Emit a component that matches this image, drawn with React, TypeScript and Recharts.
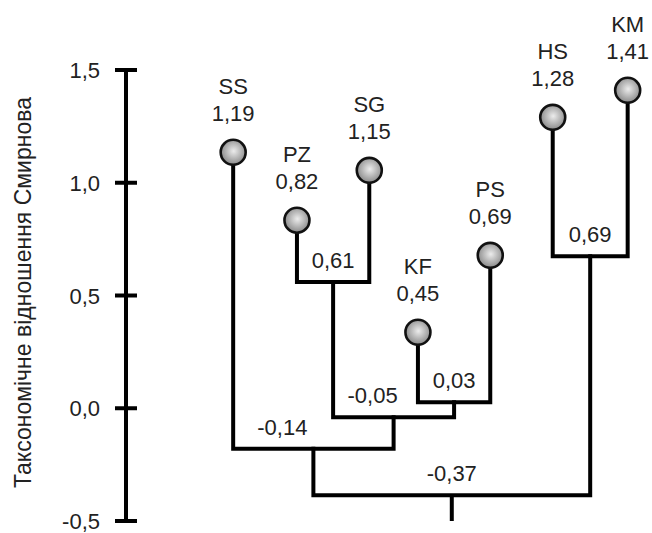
import React from "react";
import { ComposedChart, Line, Scatter, XAxis, YAxis } from "recharts";

// leaves, left to right
const leafNames = ["SS", "PZ", "SG", "KF", "PS", "HS", "KM"];
const leafValues = [1.19, 0.82, 1.15, 0.45, 0.69, 1.28, 1.41];
// heights as drawn in the figure (circles do not sit exactly at the printed value)
const leafHeights = [1.135, 0.834, 1.055, 0.337, 0.678, 1.29, 1.41];
const leafPos = [1.63, 2.6, 3.7, 4.44, 5.54, 6.49, 7.63];

// internal nodes, children listed left/right
const nodeIds = ["n1", "n2", "n3", "n4", "n5", "n6"];
const nodeChildren = [
  ["PZ", "SG"],
  ["KF", "PS"],
  ["HS", "KM"],
  ["n1", "n2"],
  ["SS", "n4"],
  ["n5", "n3"],
];
const nodeValues = [0.61, 0.03, 0.69, -0.05, -0.14, -0.37];
const nodeHeights = [0.56, 0.027, 0.674, -0.04, -0.18, -0.386];

const yTicks = [-0.5, 0, 0.5, 1, 1.5];
const rootBase = -0.5;

const FONT = "'Liberation Sans', Arial, sans-serif";
const TEXT = "#222";
const FS = 22;
// label nudges (px) where the text sits off the stem
const labelShift: Record<string, number> = { n4: -21, n5: -31 };

const fmt = (v: number, d: number) => v.toFixed(d).replace(".", ",");

const pos: Record<string, { x: number; y: number }> = {};
leafNames.forEach((n, i) => {
  pos[n] = { x: leafPos[i], y: leafHeights[i] };
});
nodeIds.forEach((id, i) => {
  const [l, r] = nodeChildren[i];
  pos[id] = { x: (pos[l].x + pos[r].x) / 2, y: nodeHeights[i] };
});

const links = nodeIds.map((id, i) => {
  const [l, r] = nodeChildren[i];
  const h = nodeHeights[i];
  return [
    { x: pos[l].x, y: pos[l].y },
    { x: pos[l].x, y: h },
    { x: pos[r].x, y: h },
    { x: pos[r].x, y: pos[r].y },
  ];
});
const rootId = nodeIds[nodeIds.length - 1];
const rootStem = [
  { x: pos[rootId].x, y: pos[rootId].y },
  { x: pos[rootId].x, y: rootBase },
];

const leafData = leafNames.map((n, i) => ({
  x: leafPos[i],
  y: leafHeights[i],
  name: n,
  value: leafValues[i],
}));
const nodeData = nodeIds.map((id, i) => ({
  x: pos[id].x,
  y: nodeHeights[i],
  id,
  value: nodeValues[i],
}));

function LeafShape(props: any) {
  const { cx, cy, payload } = props;
  const gid = `grad-${payload.name}`;
  return (
    <g>
      <defs>
        <radialGradient id={gid} cx="52%" cy="45%" r="55%">
          <stop offset="0%" stopColor="#ececec" />
          <stop offset="100%" stopColor="#888" />
        </radialGradient>
      </defs>
      <circle cx={cx} cy={cy} r={12.5} fill={`url(#${gid})`} stroke="#111" strokeWidth={2.6} />
      <text x={cx} y={cy - 58} textAnchor="middle" fontSize={FS} fontFamily={FONT} fill={TEXT}>
        {payload.name}
      </text>
      <text x={cx} y={cy - 31} textAnchor="middle" fontSize={FS} fontFamily={FONT} fill={TEXT}>
        {fmt(payload.value, 2)}
      </text>
    </g>
  );
}

function NodeLabel(props: any) {
  const { cx, cy, payload } = props;
  const dx = labelShift[payload.id] ?? 0;
  return (
    <text x={cx + dx} y={cy - 14} textAnchor="middle" fontSize={FS} fontFamily={FONT} fill={TEXT}>
      {fmt(payload.value, 2)}
    </text>
  );
}

function AxisTick(props: any) {
  const { x, y, payload } = props;
  return (
    <g>
      <line x1={x - 11} x2={x + 11} y1={y} y2={y} stroke="#000" strokeWidth={4} />
      <text x={x - 26} y={y + 8} textAnchor="end" fontSize={FS} fontFamily={FONT} fill={TEXT}>
        {fmt(payload.value, 1)}
      </text>
    </g>
  );
}

export default function App() {
  return (
    <div style={{ position: "absolute", left: 0, top: 0, background: "#fff" }}>
      <ComposedChart width={652} height={533} margin={{ top: 70, right: 0, bottom: 12, left: 0 }}>
        <XAxis type="number" dataKey="x" domain={[0, 8]} hide />
        <YAxis
          type="number"
          dataKey="y"
          domain={[-0.5, 1.5]}
          ticks={yTicks}
          width={126}
          tickSize={0}
          tickMargin={0}
          tickLine={false}
          axisLine={{ stroke: "#000", strokeWidth: 4 }}
          tick={<AxisTick />}
          label={(p: any) => {
            const vb = p.viewBox || {};
            const cy = (vb.y ?? 70) + (vb.height ?? 451) / 2 - 3;
            return (
              <text
                x={31}
                y={cy}
                transform={`rotate(-90 31 ${cy})`}
                textAnchor="middle"
                fontSize={23}
                fontFamily={FONT}
                fill={TEXT}
              >
                Таксономічне відношення Смирнова
              </text>
            );
          }}
        />
        {links.map((d, i) => (
          <Line
            key={nodeIds[i]}
            data={d}
            dataKey="y"
            type="linear"
            stroke="#000"
            strokeWidth={4}
            strokeLinejoin="miter"
            strokeLinecap="square"
            dot={false}
            activeDot={false}
            isAnimationActive={false}
          />
        ))}
        <Line
          data={rootStem}
          dataKey="y"
          type="linear"
          stroke="#000"
          strokeWidth={4}
          dot={false}
          activeDot={false}
          isAnimationActive={false}
        />
        <Scatter data={nodeData} dataKey="y" shape={<NodeLabel />} isAnimationActive={false} />
        <Scatter data={leafData} dataKey="y" shape={<LeafShape />} isAnimationActive={false} />
      </ComposedChart>
    </div>
  );
}
